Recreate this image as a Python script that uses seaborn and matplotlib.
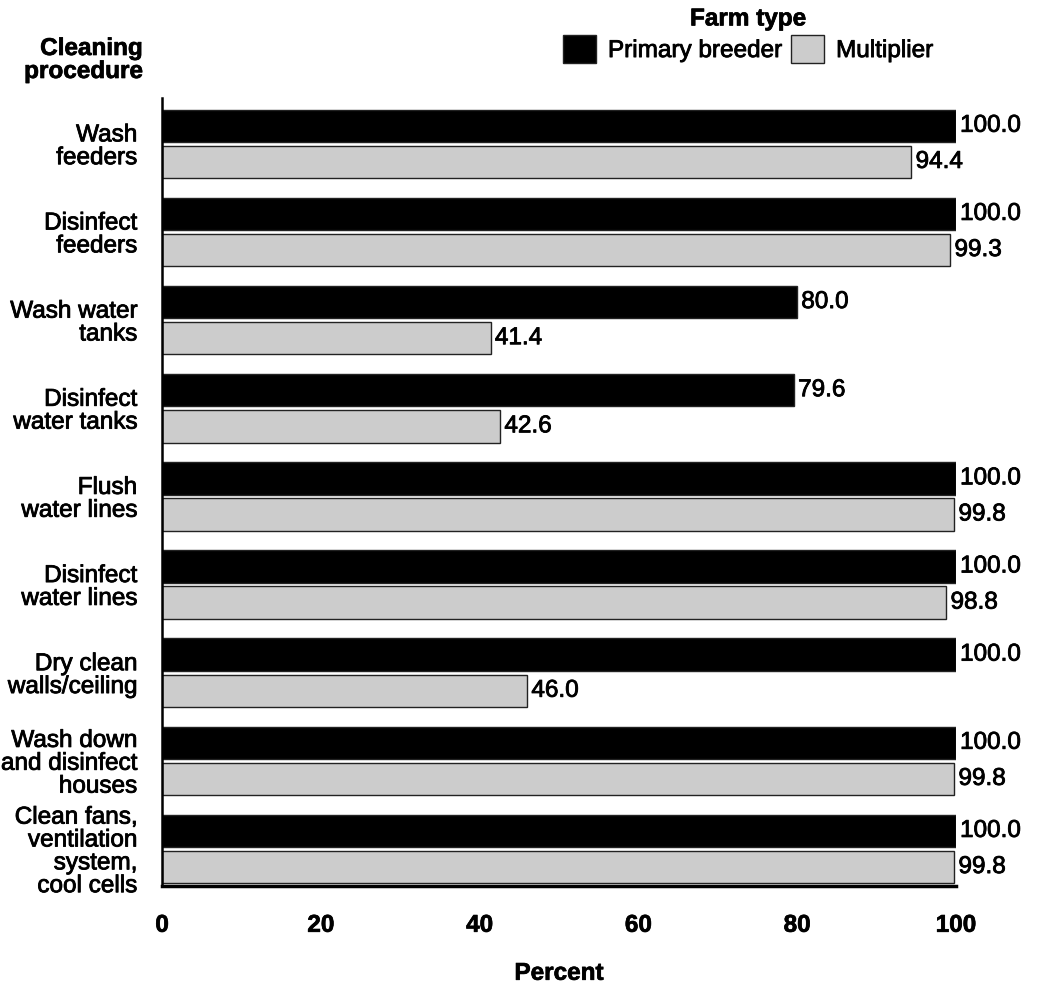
import matplotlib
matplotlib.use("Agg")
import matplotlib.pyplot as plt
import matplotlib.patheffects as pe
import seaborn as sns
import pandas as pd
from matplotlib.patches import Patch

categories = ["Wash\nfeeders", "Disinfect\nfeeders", "Wash water\ntanks",
              "Disinfect\nwater tanks", "Flush\nwater lines", "Disinfect\nwater lines",
              "Dry clean\nwalls/ceiling", "Wash down\nand disinfect\nhouses",
              "Clean fans,\nventilation\nsystem,\ncool cells"]
primary_breeder = [100.0, 100.0, 80.0, 79.6, 100.0, 100.0, 100.0, 100.0, 100.0]
multiplier = [94.4, 99.3, 41.4, 42.6, 99.8, 98.8, 46.0, 99.8, 99.8]
series_names = ["Primary breeder", "Multiplier"]
colors = ["#000000", "#cccccc"]
xticks = [0, 20, 40, 60, 80, 100]

df = pd.DataFrame({
    "Cleaning procedure": categories * 2,
    "Percent": primary_breeder + multiplier,
    "Farm type": [series_names[0]] * len(categories) + [series_names[1]] * len(categories),
})

sns.set_theme(style="white")
plt.rcParams['font.family'] = ['Liberation Sans', 'DejaVu Sans']
plt.rcParams['text.color'] = 'black'
plt.rcParams['xtick.color'] = 'black'
plt.rcParams['ytick.color'] = 'black'
plt.rcParams['axes.labelcolor'] = 'black'

FS = 17.5
heavy = [pe.withStroke(linewidth=0.6, foreground="black")]
heavy_b = [pe.withStroke(linewidth=0.5, foreground="black")]

fig = plt.figure(figsize=(10.39, 9.85), dpi=100)
ax = fig.add_axes([0.156, 0.1005, 0.764, 0.80])

sns.barplot(data=df, y="Cleaning procedure", x="Percent", hue="Farm type",
            palette=colors, orient="h", width=0.82, gap=0.1, edgecolor="#222222",
            linewidth=1.0, ax=ax, legend=False)

for cont in ax.containers:
    labels = ax.bar_label(cont, fmt="%.1f", padding=3, fontsize=FS, color="black")
    for t in labels:
        t.set_path_effects(heavy)

ax.set_xlim(0, 100)
ax.set_ylim(8.42, -0.52)
ax.set_xticks(xticks)
ax.set_xticklabels([str(t) for t in xticks], fontsize=FS, fontweight="bold")
for t in ax.get_xticklabels():
    t.set_path_effects(heavy_b)
ax.tick_params(axis="x", length=0, pad=20)
ax.tick_params(axis="y", length=0, pad=18, labelsize=FS)
for lbl in ax.get_yticklabels():
    lbl.set_horizontalalignment("right")
    lbl.set_linespacing(1.05)
    lbl.set_path_effects(heavy)
ax.set_ylabel("")
ax.set_xlabel("Percent", fontsize=FS, fontweight="bold", labelpad=18)
ax.xaxis.label.set_path_effects(heavy_b)

for s in ["top", "right"]:
    ax.spines[s].set_visible(False)
ax.spines["left"].set_color("black")
ax.spines["left"].set_linewidth(1.8)
ax.spines["bottom"].set_color("black")
ax.spines["bottom"].set_linewidth(2.5)

fig.text(143/1039, 1 - 60/985, "Cleaning\nprocedure", ha="right", va="center",
         fontsize=FS, fontweight="bold", linespacing=1.0, path_effects=heavy_b)

handles = [Patch(facecolor=c, edgecolor="#222222", linewidth=1.0) for c in colors]
leg = fig.legend(handles, series_names, loc="upper center",
                 bbox_to_anchor=(748/1039, 1 - 5/985), ncol=2, frameon=False,
                 fontsize=FS, title="Farm type", handlelength=1.35, handleheight=1.35,
                 handletextpad=0.5, columnspacing=0.4, borderaxespad=0.0, borderpad=0.1,
                 labelspacing=0.2)
leg.get_title().set_fontweight("bold")
leg.get_title().set_fontsize(FS)
leg.get_title().set_path_effects(heavy_b)
for t in leg.get_texts():
    t.set_path_effects(heavy)

fig.savefig("out.png", dpi=100)
